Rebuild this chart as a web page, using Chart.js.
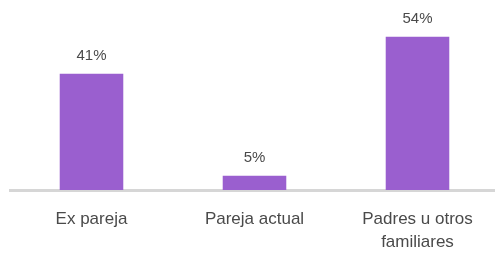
<!DOCTYPE html>
<html>
<head>
<meta charset="utf-8">
<script src="https://cdn.jsdelivr.net/npm/chart.js@4"></script>
<style>
  html, body { margin: 0; padding: 0; background: #fff; overflow: hidden; }
  #wrap { width: 499px; height: 255px; }
</style>
</head>
<body>
<div id="wrap"><canvas id="chart"></canvas></div>
<script>
// datos
const categorias = [['Ex pareja'], ['Pareja actual'], ['Padres u otros', 'familiares']];
const valores = [41, 5, 54];
const etiquetas = ['41%', '5%', '54%'];

// etiquetas encima de cada barra
const etiquetasBarra = {
  id: 'etiquetasBarra',
  afterDatasetsDraw(chart) {
    const ctx = chart.ctx;
    const meta = chart.getDatasetMeta(0);
    ctx.save();
    ctx.font = '15px "Liberation Sans", Arial, sans-serif';
    ctx.fillStyle = '#4a4a4a';
    ctx.textAlign = 'center';
    ctx.textBaseline = 'middle';
    meta.data.forEach((bar, i) => {
      ctx.fillText(etiquetas[i], bar.x, bar.y - 18);
    });
    ctx.restore();
  }
};

const opciones = {
  responsive: true,
  maintainAspectRatio: false,
  animation: false,
  layout: { padding: { left: 10, right: 0, top: 0, bottom: 0 } },
  plugins: {
    legend: { display: false },
    tooltip: { enabled: false }
  },
  scales: {
    x: {
      grid: { display: false, drawTicks: false },
      border: { display: true, color: '#d6d6d6', width: 3 },
      ticks: {
        color: '#4a4a4a',
        padding: 18,
        font: { family: '"Liberation Sans", Arial, sans-serif', size: 17, lineHeight: 1.35 }
      },
      afterFit(scale) { scale.height = 65; }
    },
    y: {
      display: false,
      min: 0,
      max: 67
    }
  }
};

function crearGrafico(ctx, tipo, datos, opciones) {
  return new Chart(ctx, {
    type: tipo,
    data: datos,
    options: opciones,
    plugins: [etiquetasBarra]
  });
}

crearGrafico(document.getElementById('chart'), 'bar', {
  labels: categorias,
  datasets: [{
    data: valores,
    backgroundColor: '#9a5fcf',
    barPercentage: 0.39,
    categoryPercentage: 1
  }]
}, opciones);
</script>
</body>
</html>
